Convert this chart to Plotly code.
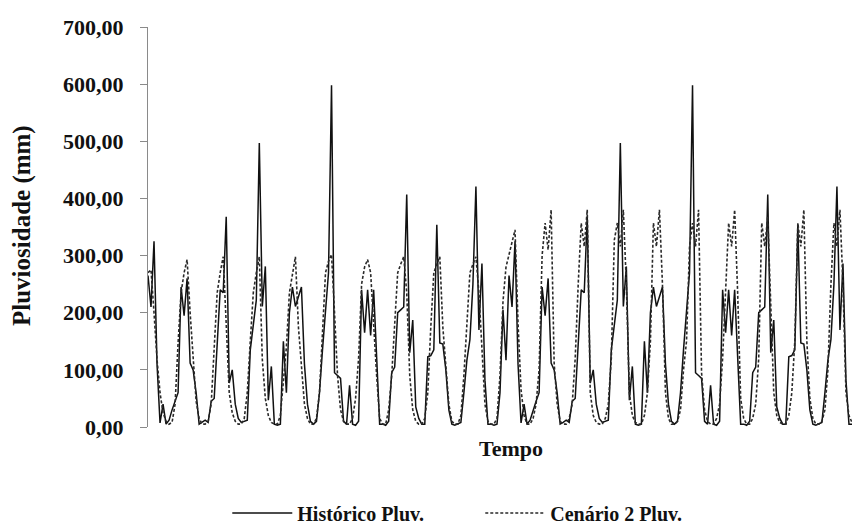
import plotly.graph_objects as go

# Monthly rainfall (mm)
historico_pluv = [
    265, 210, 325, 110, 7, 40, 5, 12, 30, 45, 60, 245,
    195, 260, 112, 100, 60, 5, 8, 12, 8, 45, 50, 150,
    240, 235, 368, 77, 100, 40, 15, 8, 10, 12, 135, 180,
    222, 497, 211, 281, 47, 106, 5, 3, 5, 150, 60, 200,
    245, 211, 230, 245, 110, 40, 10, 5, 10, 60, 135, 200,
    270, 598, 95, 90, 85, 10, 5, 73, 5, 3, 10, 240,
    165, 240, 160, 240, 117, 5, 5, 3, 10, 95, 105, 200,
    205, 210, 407, 130, 187, 35, 15, 5, 5, 123, 125, 135,
    354, 147, 145, 100, 30, 5, 3, 5, 8, 60, 117, 153,
    250, 421, 170, 286, 82, 5, 5, 3, 5, 60, 205, 117,
    265, 210, 325, 110, 7, 40, 5, 12, 30, 45, 60, 245,
    195, 260, 112, 100, 60, 5, 8, 12, 8, 45, 50, 150,
    240, 235, 368, 77, 100, 40, 15, 8, 10, 12, 135, 180,
    222, 497, 211, 281, 47, 106, 5, 3, 5, 150, 60, 200,
    245, 211, 230, 245, 110, 40, 10, 5, 10, 60, 135, 200,
    270, 598, 95, 90, 85, 10, 5, 73, 5, 3, 10, 240,
    165, 240, 160, 240, 117, 5, 5, 3, 10, 95, 105, 200,
    205, 210, 407, 130, 187, 35, 15, 5, 5, 123, 125, 135,
    354, 147, 145, 100, 30, 5, 3, 5, 8, 60, 117, 153,
    250, 421, 170, 286, 82, 5, 5, 3, 5,
]

cenario2_pluv = [
    270, 275, 200, 118, 60, 25, 10, 5, 8, 40, 147, 235,
    270, 293, 200, 120, 45, 15, 5, 5, 10, 40, 130, 235,
    270, 298, 180, 60, 25, 10, 5, 5, 15, 60, 150, 235,
    270, 298, 118, 50, 20, 8, 5, 5, 20, 80, 140, 235,
    270, 298, 175, 100, 40, 15, 5, 5, 15, 60, 175, 270,
    290, 302, 200, 90, 30, 10, 5, 5, 15, 50, 120, 250,
    280, 293, 270, 175, 90, 15, 5, 5, 30, 90, 175, 270,
    285, 298, 235, 90, 30, 10, 5, 5, 15, 60, 175, 270,
    285, 298, 175, 110, 40, 10, 5, 5, 20, 90, 175, 270,
    285, 298, 235, 147, 40, 10, 5, 5, 15, 90, 220, 280,
    300, 320, 345, 182, 65, 20, 5, 5, 15, 40, 100, 300,
    357, 310, 380, 112, 40, 10, 5, 5, 15, 40, 120, 250,
    357, 316, 380, 60, 20, 8, 5, 5, 15, 40, 120, 327,
    357, 316, 380, 250, 60, 20, 8, 5, 5, 20, 60, 150,
    357, 316, 380, 250, 60, 15, 5, 5, 10, 30, 100, 150,
    316, 357, 316, 380, 95, 30, 10, 5, 5, 15, 40, 120,
    250, 357, 316, 380, 235, 50, 15, 5, 5, 15, 40, 120,
    357, 316, 368, 200, 60, 20, 8, 5, 5, 20, 60, 150,
    357, 316, 380, 150, 50, 15, 5, 5, 10, 30, 100, 250,
    357, 316, 380, 250, 60, 20, 8, 15, 40,
]

y_tick_values = [0, 100, 200, 300, 400, 500, 600, 700]
y_tick_labels = ["0,00", "100,00", "200,00", "300,00", "400,00", "500,00", "600,00", "700,00"]

months_hist = list(range(len(historico_pluv)))
months_cen = list(range(len(cenario2_pluv)))
n_max = max(len(historico_pluv), len(cenario2_pluv)) - 1

serif = "Liberation Serif, Times New Roman, serif"

# page body has an 8px margin; figure geometry compensates for it
L, T, PW, PH = 140, 19, 710, 400
FIG_W, FIG_H = 852, 545

fig = go.Figure()
fig.add_trace(go.Scatter(
    x=months_hist, y=historico_pluv, mode="lines", name="Histórico Pluv.",
    line=dict(color="#111111", width=1.5),
))
fig.add_trace(go.Scatter(
    x=months_cen, y=cenario2_pluv, mode="lines", name="Cenário 2 Pluv.",
    line=dict(color="#2a2a2a", width=1.6, dash="3px,2px"),
))

fig.update_layout(
    width=FIG_W, height=FIG_H,
    paper_bgcolor="white", plot_bgcolor="white",
    margin=dict(l=L, r=FIG_W - L - PW, t=T, b=FIG_H - T - PH),
    font=dict(family=serif, color="#111111"),
    showlegend=True,
    legend=dict(
        orientation="h", x=0.468, xanchor="center", y=-0.215, yanchor="middle",
        font=dict(family=serif, size=20, color="#111111", weight="bold"),
        itemwidth=60, entrywidth=178, tracegroupgap=0,
        bgcolor="rgba(0,0,0,0)",
    ),
    xaxis=dict(
        range=[0, n_max], showticklabels=False, showgrid=False, zeroline=False,
        showline=False, ticks="",
    ),
    yaxis=dict(
        range=[0, 700], tickvals=y_tick_values, ticktext=y_tick_labels,
        showgrid=False, zeroline=False, showline=True, linecolor="#8a8a8a", linewidth=1,
        ticks="outside", ticklen=7, tickcolor="#8a8a8a", tickwidth=1,
        ticklabelstandoff=12,
        tickfont=dict(family=serif, size=22, color="#111111", weight="bold"),
    ),
    annotations=[
        dict(text="Pluviosidade (mm)", textangle=-90, xref="paper", yref="paper",
             x=(14 - L) / PW, y=(T + PH - 217) / PH, xanchor="center", yanchor="middle",
             showarrow=False, font=dict(family=serif, size=25, color="#111111", weight="bold")),
        dict(text="Tempo", xref="paper", yref="paper",
             x=(503 - L) / PW, y=(T + PH - 440) / PH, xanchor="center", yanchor="middle",
             showarrow=False, font=dict(family=serif, size=22, color="#111111", weight="bold")),
    ],
)

fig.write_html("out.html")
